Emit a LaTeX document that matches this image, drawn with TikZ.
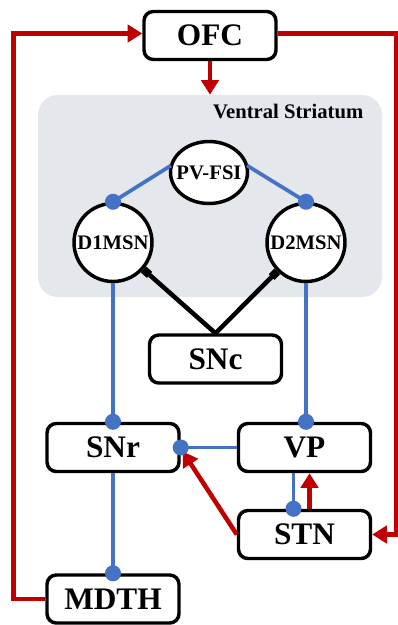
\documentclass[tikz,border=0pt]{standalone}
\usepackage{fontspec}
\setmainfont{Liberation Serif}
\usetikzlibrary{arrows.meta,calc}

\definecolor{cktred}{RGB}{192,0,0}
\definecolor{cktblue}{RGB}{68,114,196}
\definecolor{vsgrey}{RGB}{228,231,236}

\begin{document}
\begin{tikzpicture}[
    x=0.75pt, y=-0.75pt,
    font=\bfseries,
    region/.style={draw, line width=2.6pt, rounded corners=7pt, fill=white,
      minimum width=99pt, minimum height=36pt, inner sep=0pt,
      font=\bfseries\fontsize{23.5}{26}\selectfont},
    cell/.style={draw, circle, line width=2.6pt, fill=white,
      minimum size=58.5pt, inner sep=0pt,
      font=\bfseries\fontsize{15.5}{17}\selectfont},
    excite/.style={cktred, line width=3.4pt, -{Triangle[length=11pt,width=13pt]}},
    inhib/.style={cktblue, line width=2.8pt, -{Circle[length=12pt]}, shorten >=-6pt},
    dopa/.style={black, line width=3.4pt, -{Square[length=6pt]}},
  ]
  \useasboundingbox (0,0) rectangle (398,625);

  % ------------------------------------------------------------------
  % Ventral striatum backdrop
  % ------------------------------------------------------------------
  \node[fill=vsgrey, rounded corners=15pt, minimum width=258pt,
        minimum height=151.5pt, inner sep=0pt] (vs) at (210,196) {};
  \node[anchor=east, font=\bfseries\fontsize{15.5}{17}\selectfont] (vslabel)
       at (368,111) {Ventral Striatum};

  % ------------------------------------------------------------------
  % regions and cells
  % ------------------------------------------------------------------
  \node[region] (ofc)  at (210,35.5)   {OFC};
  \node[region] (snc)  at (215.5,359)  {SNc};
  \node[region] (snr)  at (113,447.5)  {SNr};
  \node[region] (vp)   at (304.5,447.5){VP};
  \node[region] (stn)  at (304.5,534.5){STN};
  \node[region] (mdth) at (113,599)    {MDTH};

  % interneuron: flattened cell
  \draw[line width=2.6pt, fill=white] (209,172.5) ellipse [x radius=38.5, y radius=31];
  \node[inner sep=0pt, font=\bfseries\fontsize{15.5}{17}\selectfont]
       (fsi) at (209,172.5) {PV-FSI};
  \node[cell] (d1) at (113,242.5) {D1MSN};
  \node[cell] (d2) at (306,242.5) {D2MSN};

  % ------------------------------------------------------------------
  % red (excitatory) loops
  % ------------------------------------------------------------------
  \draw[excite] (ofc.south) -- (ofc.south |- vs.north);
  \draw[excite] (mdth.west) -- ++(-32,0) |- ($(ofc.west)+(0,-2)$);
  \draw[excite] ($(ofc.east)+(0,-2)$) -- ++(119,0) |- (stn.east);
  \draw[excite] ($(stn.north)+(5,0)$) -- ($(vp.south)+(5,0)$);
  \draw[excite] (stn.west) -- ($(snr.east)+(2,4)$);

  % ------------------------------------------------------------------
  % blue (inhibitory) links
  % ------------------------------------------------------------------
  \draw[inhib] ($(fsi)+(-38,-7)$) -- (d1.north);
  \draw[inhib] ($(fsi)+(38,-7)$) -- (d2.north);
  \draw[inhib] (d1.south) -- (d1.south |- snr.north);
  \draw[inhib] (d2.south) -- (d2.south |- vp.north);
  \draw[inhib] (vp.west) -- (snr.east);
  \draw[inhib] (snr.south) -- (mdth.north);
  \draw[inhib] ($(vp.south)+(-11,0)$) -- ($(stn.north)+(-11,0)$);

  % ------------------------------------------------------------------
  % dopamine from SNc
  % ------------------------------------------------------------------
  \draw[dopa] (snc.north) -- (d1);
  \draw[dopa] (snc.north) -- (d2);

\end{tikzpicture}
\end{document}
